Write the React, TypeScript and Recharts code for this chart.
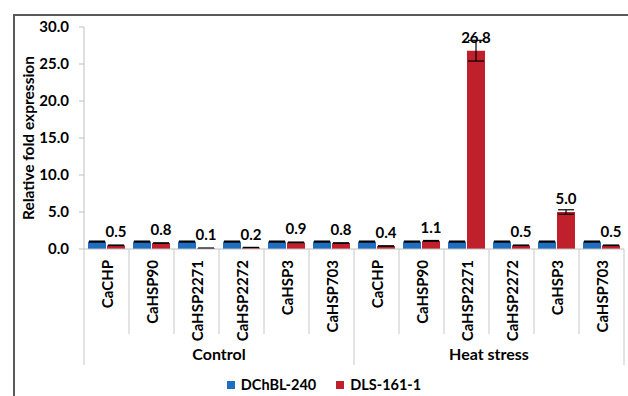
import { BarChart, Bar, XAxis, YAxis, ErrorBar, LabelList, Legend } from "recharts";

const genes = ["CaCHP", "CaHSP90", "CaHSP2271", "CaHSP2272", "CaHSP3", "CaHSP703"];
const conditions = ["Control", "Heat stress"];
const dchbl = [1.0, 1.0, 1.0, 1.0, 1.0, 1.0, 1.0, 1.0, 1.0, 1.0, 1.0, 1.0];
const dchblErr = [0.05, 0.05, 0.05, 0.05, 0.05, 0.05, 0.05, 0.05, 0.05, 0.05, 0.05, 0.05];
const dls = [0.5, 0.8, 0.1, 0.2, 0.9, 0.8, 0.4, 1.1, 26.8, 0.5, 5.0, 0.5];
const dlsErr = [0.03, 0.03, 0.02, 0.02, 0.04, 0.04, 0.03, 0.05, 1.4, 0.03, 0.3, 0.03];
const yTicks = [0, 5, 10, 15, 20, 25, 30];

const BLUE = "#1F6EBF";
const RED = "#C0202B";
const FONT = "Lato, 'Open Sans', sans-serif";

const data = conditions.flatMap((cond, ci) =>
  genes.map((gene, gi) => {
    const i = ci * genes.length + gi;
    return {
      gene,
      cond,
      dchbl: dchbl[i],
      dchblErr: dchblErr[i],
      dls: dls[i],
      dlsErr: dlsErr[i],
    };
  })
);

function GeneTick(props: any) {
  const { x, y, payload, index } = props;
  const half = payload.offset || 22.5;
  const left = x - half;
  const right = x + half;
  const n = genes.length;
  const groupEdge = index % n === 0;
  const isLast = index === data.length - 1;
  return (
    <g>
      <line
        x1={left}
        x2={left}
        y1={y}
        y2={groupEdge ? y + 116 : y + 85}
        stroke="#c8c8c8"
        strokeWidth={1}
      />
      {isLast && (
        <line x1={right} x2={right} y1={y} y2={y + 116} stroke="#c8c8c8" strokeWidth={1} />
      )}
      <text
        x={x}
        y={y + 11}
        transform={`rotate(-90 ${x} ${y + 11})`}
        textAnchor="end"
        dominantBaseline="central"
        fontFamily={FONT}
        fontWeight="bold"
        fontSize={15}
        fill="#000"
      >
        {payload.value}
      </text>
      {index % n === n / 2 - 1 && (
        <text
          x={right}
          y={y + 111}
          textAnchor="middle"
          fontFamily={FONT}
          fontWeight="bold"
          fontSize={16}
          fill="#000"
        >
          {data[index].cond}
        </text>
      )}
    </g>
  );
}

function LegendBox() {
  const items = [
    { name: "DChBL-240", color: BLUE },
    { name: "DLS-161-1", color: RED },
  ];
  return (
    <div
      style={{
        display: "flex",
        justifyContent: "center",
        gap: 20,
        paddingLeft: 4,
        fontFamily: FONT,
        fontWeight: "bold",
        fontSize: 14.5,
        color: "#000",
      }}
    >
      {items.map((it) => (
        <div key={it.name} style={{ display: "flex", alignItems: "center" }}>
          <span style={{ width: 8, height: 8, background: it.color, marginRight: 6 }} />
          <span>{it.name}</span>
        </div>
      ))}
    </div>
  );
}

export default function App() {
  return (
    <div style={{ position: "absolute", left: 0, top: 0, width: 628, height: 396, background: "#fff", overflow: "hidden" }}>
      <div
        style={{
          position: "absolute",
          left: 13,
          top: 14,
          width: 640,
          height: 400,
          borderTop: "2px solid #595959",
          borderLeft: "2px solid #595959",
        }}
      />
      <div style={{ position: "absolute", left: 0, top: 0 }}>
        <BarChart
          width={628}
          height={396}
          data={data}
          margin={{ top: 27, right: 4, bottom: 0, left: 20 }}
          barSize={18}
          barGap={1}
        >
          <XAxis
            dataKey="gene"
            height={127}
            tick={<GeneTick />}
            tickLine={false}
            tickSize={0}
            tickMargin={0}
            interval={0}
            axisLine={{ stroke: "#bfbfbf" }}
          />
          <YAxis
            width={64}
            domain={[0, 30]}
            ticks={yTicks}
            tickFormatter={(v: number) => v.toFixed(1)}
            tick={{ fontFamily: FONT, fontWeight: "bold", fontSize: 15, fill: "#000" }}
            tickSize={5}
            tickMargin={10}
            tickLine={{ stroke: "#bfbfbf" }}
            axisLine={{ stroke: "#bfbfbf" }}
            label={{
              value: "Relative fold expression",
              angle: -90,
              position: "insideLeft",
              offset: 8,
              style: { fontFamily: FONT, fontWeight: "bold", fontSize: 15.5, fill: "#000", textAnchor: "middle" },
            }}
          />
          <Legend verticalAlign="bottom" height={20} content={<LegendBox />} />
          <Bar dataKey="dchbl" name="DChBL-240" fill={BLUE} isAnimationActive={false}>
            <ErrorBar dataKey="dchblErr" width={8} stroke="#000" strokeWidth={1.5} />
          </Bar>
          <Bar dataKey="dls" name="DLS-161-1" fill={RED} isAnimationActive={false}>
            <ErrorBar dataKey="dlsErr" width={8} stroke="#000" strokeWidth={1.2} />
            <LabelList
              dataKey="dls"
              position="top"
              offset={8}
              formatter={(v: any) => Number(v).toFixed(1)}
              style={{ fontFamily: FONT, fontWeight: "bold", fontSize: 15, fill: "#000" }}
            />
          </Bar>
        </BarChart>
      </div>
    </div>
  );
}
